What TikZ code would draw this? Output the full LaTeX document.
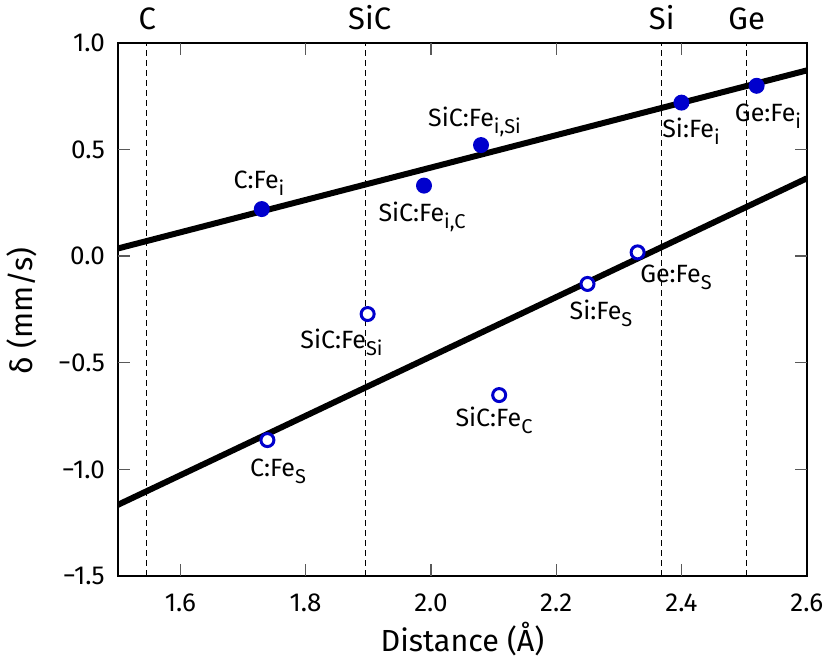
\documentclass[tikz,border=0pt]{standalone}
\usepackage{fontspec}
\setmainfont{Fira Sans}
\definecolor{ptblue}{RGB}{0,0,205}
\newcommand\subx[1]{\raisebox{-7pt}{\fontsize{20}{20}\selectfont #1}}
\tikzset{
  fitline/.style={line width=6pt, black},
  guide/.style={dash pattern=on 6pt off 4pt, line width=1.4pt, black},
  frame/.style={line width=2pt, black},
  tickmark/.style={line width=1.2pt, black!65},
  filled/.style={circle, fill=ptblue, minimum size=16pt, inner sep=0pt},
  hollow/.style={circle, draw=ptblue, line width=3pt, fill=white, minimum size=13pt, inner sep=0pt},
  ptlabel/.style={anchor=base, inner sep=0pt, font=\fontsize{25}{28}\selectfont},
  ticklabel/.style={inner sep=0pt, font=\fontsize{26}{30}\selectfont},
  toplabel/.style={anchor=base, inner sep=0pt, font=\fontsize{31}{34}\selectfont},
  axistitle/.style={inner sep=0pt, font=\fontsize{30.5}{34}\selectfont},
}
\begin{document}
\begin{tikzpicture}
\useasboundingbox (0,0) rectangle (829pt,670pt);
% data coordinates
\begin{scope}[x={(626.4pt,0pt)}, y={(0pt,213.3pt)}, shift={(-821.9pt,414pt)}]
  \coordinate (ll) at (1.5,-1.5);
  \coordinate (ur) at (2.6,1.0);
  % guide lines
  \foreach \g/\n in {1.546/gC,1.896/gSiC,2.368/gSi,2.504/gGe}{
    \coordinate (\n b) at (\g,-1.5);
    \coordinate (\n t) at (\g,1.0);
    \draw[guide] (\n b) -- (\n t);
  }
  % fit lines
  \begin{scope}
    \clip (ll) rectangle (ur);
    \coordinate (a1) at (1.5,0.035);
    \coordinate (a2) at (2.6,0.870);
    \coordinate (b1) at (1.5,-1.167);
    \coordinate (b2) at (2.6,0.364);
    \draw[fitline] (a1) -- (a2);
    \draw[fitline] (b1) -- (b2);
  \end{scope}
  % points
  \node[filled] (pCi) at (1.730,0.220) {};
  \node[filled] (pSiCiC) at (1.989,0.330) {};
  \node[filled] (pSiCiSi) at (2.080,0.520) {};
  \node[filled] (pSii) at (2.400,0.719) {};
  \node[filled] (pGei) at (2.520,0.798) {};
  \node[hollow] (pCs) at (1.739,-0.863) {};
  \node[hollow] (pSiCSi) at (1.899,-0.272) {};
  \node[hollow] (pSiCC) at (2.109,-0.652) {};
  \node[hollow] (pSis) at (2.250,-0.131) {};
  \node[hollow] (pGes) at (2.330,0.017) {};
  % frame
  \draw[frame] (ll) rectangle (ur);
  % ticks
  \foreach \x in {1.6,1.8,2.0,2.2,2.4}{
    \draw[tickmark] (\x,-1.5) -- ++(0,12pt);
    \draw[tickmark] (\x,1.0) -- ++(0,-12pt);
  }
  \foreach \y in {-1.0,-0.5,0.0,0.5}{
    \draw[tickmark] (1.5,\y) -- ++(12pt,0);
    \draw[tickmark] (2.6,\y) -- ++(-12pt,0);
  }
  \foreach \x [count=\i] in {1.6,1.8,2.0,2.2,2.4,2.6}{
    \node[ticklabel, anchor=base] (xl\i) at ([yshift=-35.7pt]\x,-1.5) {\x};
  }
  \foreach \y/\t [count=\i] in {1.0/1.0,0.5/0.5,0.0/0.0,-0.5/−0.5,-1.0/−1.0,-1.5/−1.5}{
    \node[ticklabel, anchor=base east] (yl\i) at ([xshift=-12.7pt,yshift=-9pt]1.5,\y) {\t};
  }
\end{scope}
% pixel coordinates for labels
\begin{scope}[x=1pt, y=-1pt, shift={(0pt,670pt)}]
  \node[toplabel] (tC) at (147.2,29.3) {C};
  \node[toplabel] (tSiC) at (369.7,29.3) {SiC};
  \node[toplabel] (tSi) at (661.7,29.3) {Si};
  \node[toplabel] (tGe) at (746.7,29.3) {Ge};
  \node[ptlabel] (lCi) at (259,189) {C:Fe\subx{i}};
  \node[ptlabel] (lSiCiC) at (422,221.7) {SiC:Fe\subx{i,C}};
  \node[ptlabel] (lSiCiSi) at (474.5,126.3) {SiC:Fe\subx{i,Si}};
  \node[ptlabel] (lSii) at (691,138) {Si:Fe\subx{i}};
  \node[ptlabel] (lGei) at (768,121.7) {Ge:Fe\subx{i}};
  \node[ptlabel] (lGes) at (676,283) {Ge:Fe\subx{S}};
  \node[ptlabel] (lSis) at (601,320) {Si:Fe\subx{S}};
  \node[ptlabel] (lSiCSi) at (341.5,348) {SiC:Fe\subx{Si}};
  \node[ptlabel] (lSiCC) at (494,426.7) {SiC:Fe\subx{C}};
  \node[ptlabel] (lCs) at (278,476.7) {C:Fe\subx{S}};
  \node[axistitle, anchor=base] (xt) at (462.5,651.7) {Distance (Å)};
  \node[axistitle, rotate=90] (yt) at (22,311) {δ (mm/s)};
\end{scope}
\end{tikzpicture}
\end{document}
